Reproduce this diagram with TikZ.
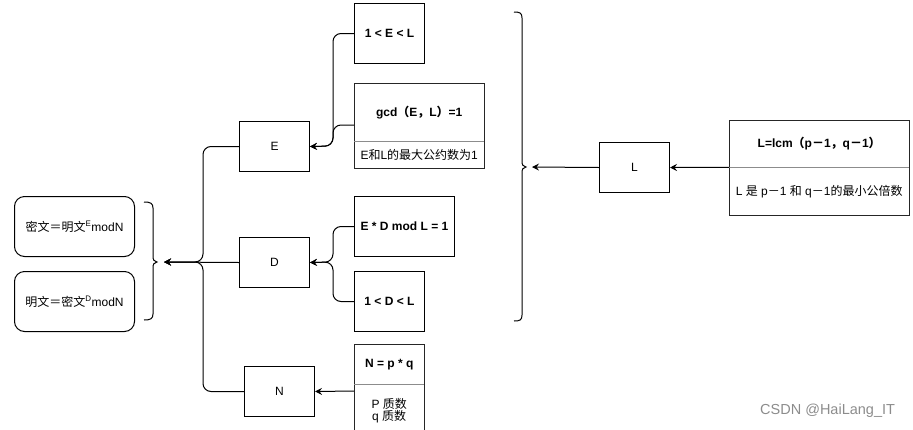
\documentclass[tikz,border=0pt]{standalone}
\usepackage{fontspec}
\setmainfont{Liberation Sans}
\newfontfamily\cjk{Noto Sans CJK SC}
\usetikzlibrary{arrows.meta}
\tikzset{
  box/.style={draw=black, line width=1pt, anchor=north west, inner sep=0pt, align=center, font=\fontsize{12}{14}\selectfont},
  cell/.style={anchor=north west, inner sep=0pt, align=center, font=\fontsize{12}{14}\selectfont},
  rbox/.style={box, rounded corners=10pt},
  frame/.style={draw=black!85, line width=1pt},
  divider/.style={draw=black!45, line width=1pt},
  conn/.style={line width=1pt, rounded corners=8pt},
  arr/.style={conn, -{Stealth[length=7pt,width=7pt,inset=2.5pt]}},
  bracestyle/.style={line width=1pt},
}
\begin{document}
\begin{tikzpicture}[x=1pt,y=-1pt]
\useasboundingbox (0,0) rectangle (913,429);
\clip (0,0) rectangle (913,429);
% left rounded boxes
\node[rbox, minimum width=120pt, minimum height=60pt] (m1) at (14,196) {{\cjk 密文＝明文}\textsuperscript{E}modN};
\node[rbox, minimum width=120pt, minimum height=60pt] (m2) at (14,271) {{\cjk 明文＝密文}\textsuperscript{D}modN};
% left brace
\draw[bracestyle] (144,202) .. controls (150,202) and (153,203) .. (153,208) -- (153,256) .. controls (153,260) and (154,261.5) .. (157,262) .. controls (154,262.5) and (153,264) .. (153,268) -- (153,314) .. controls (153,319) and (150,320) .. (144,320);
\coordinate (lb) at (164,262);
% E D N
\node[box, minimum width=70pt, minimum height=50pt] (E) at (239,121) {E};
\node[box, minimum width=70pt, minimum height=50pt] (D) at (239,237) {D};
\node[box, minimum width=70pt, minimum height=50pt] (N) at (244,366) {N};
% E conditions
\node[box, minimum width=70pt, minimum height=60pt] (e1) at (354,3) {\textbf{1 < E < L}};
\node[cell, minimum width=130pt, minimum height=58pt] (gH) at (354,83) {\textbf{gcd{\cjk（}E{\cjk，}L{\cjk）}=1}};
\node[cell, minimum width=130pt, minimum height=27pt] (gB) at (354,141) {E{\cjk 和}L{\cjk 的最大公约数为}1};
\draw[frame] (gH.north west) rectangle (gB.south east);
\draw[divider] (gH.south west) -- (gH.south east);
% D conditions
\node[box, minimum width=100pt, minimum height=60pt] (d2) at (354,196) {\textbf{E * D mod L = 1}};
\node[box, minimum width=70pt, minimum height=60pt] (d1) at (354,271) {\textbf{1 < D < L}};
% N table
\node[cell, minimum width=70pt, minimum height=40pt] (nH) at (354,344) {\textbf{N = p * q}};
\node[cell, minimum width=70pt, minimum height=52pt] (nB) at (354,384) {P {\cjk 质数}\\[-2pt]q {\cjk 质数}};
\draw[frame] (nH.north west) rectangle (nB.south east);
\draw[divider] (nH.south west) -- (nH.south east);
% big brace
\draw[bracestyle] (514,12) .. controls (520,12) and (522,13) .. (522,18) -- (522,161) .. controls (522,165) and (523,166.5) .. (526,167) .. controls (523,167.5) and (522,169) .. (522,173) -- (522,315) .. controls (522,320) and (520,321) .. (514,321);
\coordinate (rb) at (532,167);
% L
\node[box, minimum width=70pt, minimum height=50pt] (L) at (599,142) {L};
\node[cell, minimum width=180pt, minimum height=47pt] (lH) at (729,120) {\textbf{L=lcm{\cjk（}p{\cjk －}1{\cjk ，}q{\cjk －}1{\cjk ）}}};
\node[cell, minimum width=180pt, minimum height=48pt] (lB) at (729,167) {L {\cjk 是} p{\cjk －}1 {\cjk 和} q{\cjk －}1{\cjk 的最小公倍数}};
\draw[frame] (lH.north west) rectangle (lB.south east);
\draw[divider] (lH.south west) -- (lH.south east);
% junctions
\coordinate (jE) at (333,146);
\coordinate (jD) at (333,262);
\coordinate (jL) at (203,262);
% connectors
\draw[arr] (e1.west) -| (jE) -- (E.east);
\draw[arr] (gH.south west |- 0,125) -| (jE) -- (E.east);
\draw[arr] (d2.west) -| (jD) -- (D.east);
\draw[arr] (d1.west) -| (jD) -- (D.east);
\draw[arr] (354,391) -- (N.east);
\draw[arr] (E.west) -| (jL) -- (lb);
\draw[arr] (N.west) -| (jL) -- (lb);
\draw[arr] (D.west) -- (lb);
\draw[arr] (lH.south west) -- (L.east);
\draw[arr] (L.west) -- (rb);
% watermark
\node[anchor=west, inner sep=0pt, text=black!45, font=\fontsize{14.5}{16}\selectfont] (wm) at (760,411) {CSDN @HaiLang\_IT};
\end{tikzpicture}
\end{document}
